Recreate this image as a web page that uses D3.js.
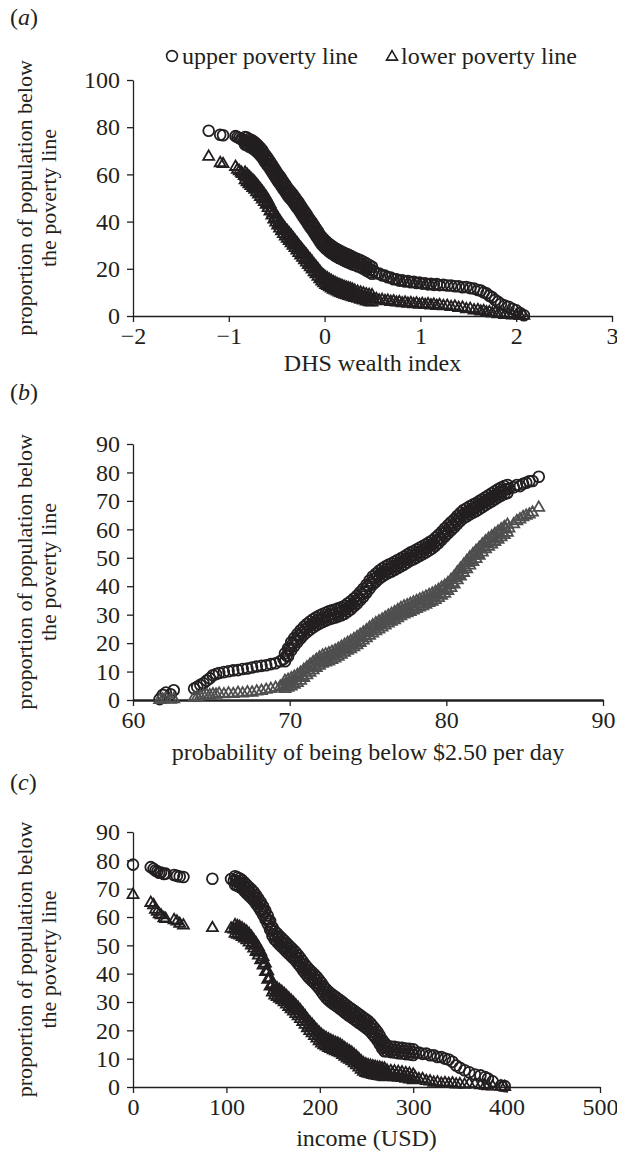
<!DOCTYPE html>
<html>
<head>
<meta charset="utf-8">
<script src="https://cdn.jsdelivr.net/npm/d3@7"></script>
<style>
  body { margin: 0; background: #fff; }
  text { font-family: "Liberation Serif", "Times New Roman", serif; fill: #231f20; }
</style>
</head>
<body>
<svg id="chart"></svg>
<script>
// ---- data ----
const legendLabels = ["upper poverty line", "lower poverty line"];
const yTitle = ["proportion of population below", "the poverty line"];

// (a) DHS wealth index
const aXTicks = [-2, -1, 0, 1, 2, 3];
const aYTicks = [0, 20, 40, 60, 80, 100];
const aX = [-1.21,-1.09,-1.06,-0.93,-0.91,-0.89,-0.87,-0.86,
  -0.84,-0.82,-0.80,-0.78,-0.76,-0.74,-0.72,-0.70,-0.68,-0.66,
  -0.64,-0.62,-0.60,-0.58,-0.56,-0.54,-0.52,-0.50,-0.48,-0.46,
  -0.44,-0.42,-0.40,-0.38,-0.36,-0.34,-0.32,-0.30,-0.28,-0.26,
  -0.24,-0.22,-0.20,-0.18,-0.16,-0.14,-0.12,-0.10,-0.08,-0.06,
  -0.04,-0.02,0.00,0.02,0.04,0.06,0.08,0.10,0.12,0.14,
  0.16,0.18,0.20,0.22,0.24,0.26,0.28,0.30,
  0.33,0.36,0.39,0.42,0.45,0.48,0.51,0.54,0.57,0.60,
  0.63,0.66,0.69,0.72,0.75,0.78,0.81,0.84,0.87,0.90,
  0.93,0.96,0.99,1.02,1.05,1.08,1.11,1.14,1.17,1.20,
  1.24,1.28,1.32,1.36,1.40,1.44,1.48,1.52,1.56,1.60,
  1.63,1.66,1.69,1.72,1.75,1.78,1.81,1.84,1.88,1.92,
  1.96,2.00,2.04,2.08];
const aUpper = [78.5,76.8,76.6,76.2,75.8,75.4,75.0,74.6,
  74.4,74.0,73.9,73.0,73.2,72.0,71.9,70.6,70.3,68.9,
  68.2,66.4,66.0,64.2,63.5,61.6,61.0,59.2,58.4,56.9,
  56.2,54.3,53.8,52.0,51.6,50.2,49.5,47.8,47.4,45.5,
  44.9,43.0,42.5,40.6,40.0,38.2,37.7,35.8,35.2,33.4,
  32.6,31.2,30.8,29.6,29.3,28.3,28.1,27.2,27.0,26.3,
  26.1,25.5,25.3,24.6,24.6,24.0,23.7,23.3,
  22.9,22.3,21.9,21.0,20.6,19.6,19.2,18.1,18.0,17.2,
  17.1,16.4,16.3,15.6,15.6,15.0,15.1,14.6,14.8,14.3,
  14.5,14.0,14.2,13.7,13.9,13.4,13.6,13.2,13.5,13.1,
  13.2,12.9,12.9,12.6,12.6,12.2,12.3,11.8,11.6,11.0,
  10.8,10.0,9.6,8.6,7.9,6.8,6.0,5.1,4.4,3.9,
  3.0,2.4,1.2,0.3];
const aLower = [67.5,64.8,64.4,63.2,62.0,61.4,60.7,60.2,
  59.3,58.9,57.6,57.3,56.0,55.8,54.4,53.8,52.3,51.9,
  50.1,49.7,47.8,46.9,44.8,43.5,41.4,40.9,39.0,38.3,
  36.7,36.0,34.6,34.1,32.7,32.2,30.6,30.2,28.6,28.0,
  26.5,26.0,24.6,23.9,22.5,22.0,20.5,19.9,18.6,18.0,
  16.4,16.0,14.9,14.7,13.9,13.7,12.9,12.6,12.1,11.9,
  11.3,11.2,10.6,10.6,10.1,10.1,9.6,9.5,
  8.9,8.7,8.1,8.0,7.4,7.5,7.0,7.2,6.6,6.8,
  6.3,6.5,6.0,6.2,5.7,5.9,5.4,5.7,5.2,5.5,
  5.0,5.3,4.8,5.1,4.7,5.0,4.5,4.8,4.3,4.6,
  4.2,4.3,3.8,4.0,3.4,3.5,2.9,3.0,2.4,2.5,
  1.9,2.1,1.5,1.6,1.1,1.3,0.8,1.0,0.5,0.6,
  0.2,0.3,0.0,0.1];
// regions packed inside the solid part of the bands (two readings per x)
const aXDense = [-0.83,-0.81,-0.79,-0.77,-0.75,-0.73,-0.71,-0.69,-0.67,-0.65,
  -0.63,-0.61,-0.59,-0.57,-0.55,-0.53,-0.51,-0.49,-0.47,-0.45,
  -0.43,-0.41,-0.39,-0.37,-0.35,-0.33,-0.31,-0.29,-0.27,-0.25,
  -0.23,-0.21,-0.19,-0.17,-0.15,-0.13,-0.11,-0.09,-0.07,-0.05,
  -0.03,-0.01,0.01,0.03,0.05,0.07,0.09,0.11,0.13,0.15,
  0.17,0.19,0.21,0.23,0.25,0.27,0.29,
  0.315,0.345,0.375,0.405,0.435,0.465,0.495];
const aUpperDense = [75.8,72.4,75.0,71.5,74.2,70.4,72.9,68.9,71.2,67.0,
  68.9,64.6,66.7,62.3,64.2,59.7,61.7,57.2,59.3,55.0,
  56.9,52.5,54.5,50.2,52.5,48.3,50.3,46.0,48.1,43.6,
  45.6,41.2,43.2,38.7,40.7,36.4,38.4,33.9,35.9,31.4,
  33.5,29.4,31.8,27.9,30.4,26.6,29.3,25.5,28.3,24.6,
  27.4,23.8,26.6,23.0,25.9,22.3,25.1,
  24.6,21.1,23.6,20.0,22.3,18.6,20.9];
const aUpperDense2 = [72.6,75.6,71.8,74.7,71.0,73.6,69.7,72.1,68.0,70.2,
  65.7,67.8,63.5,65.5,61.0,62.9,58.5,60.4,56.1,58.2,
  53.7,55.7,51.3,53.4,49.3,51.5,47.1,49.2,44.9,46.8,
  42.4,44.4,40.0,41.9,37.5,39.6,35.2,37.1,32.7,34.6,
  30.3,32.6,28.6,31.1,27.2,29.8,26.1,28.7,25.1,27.8,
  24.2,27.0,23.4,26.2,22.7,25.5,21.9,
  21.6,24.1,20.6,23.0,19.3,21.6,17.9];
const aLowerDense = [57.5,59.9,55.9,58.3,54.3,56.7,52.5,54.7,50.5,52.6,
  48.3,50.4,45.8,47.5,42.6,44.1,39.6,41.6,37.1,39.1,
  34.8,36.9,32.8,35.0,30.9,33.0,28.8,31.0,26.7,28.9,
  24.7,26.9,22.7,24.8,20.7,22.9,18.6,20.9,16.7,18.8,
  14.6,17.1,13.2,15.9,12.2,14.9,11.2,14.0,10.4,13.2,
  9.7,12.5,9.0,12.0,8.5,11.5,8.0,
  7.7,10.3,6.9,9.6,6.2,8.9,5.8];
const aLowerDense2 = [60.7,56.7,59.1,55.1,57.5,53.5,55.7,51.5,53.7,49.4,
  51.5,47.2,49.0,44.3,45.8,40.9,42.8,38.4,40.3,35.9,
  38.0,33.7,36.0,31.8,34.1,29.8,32.0,27.8,29.9,25.7,
  27.9,23.7,25.9,21.6,23.9,19.7,21.8,17.7,19.9,15.6,
  17.8,13.9,16.4,12.7,15.4,11.7,14.4,10.8,13.6,10.0,
  12.9,9.3,12.2,8.8,11.7,8.3,11.2,
  10.7,7.3,9.9,6.6,9.2,5.9,8.8];

// (b) probability of being below $2.50 per day
const bXTicks = [60, 70, 80, 90];
const bYTicks = [0, 10, 20, 30, 40, 50, 60, 70, 80, 90];
const bX = [61.7,61.9,62.1,62.4,62.6,
  63.9,64.1,64.3,64.5,64.7,64.9,65.1,65.3,65.5,65.8,66.1,66.4,66.7,67.0,67.3,67.6,67.9,68.2,68.5,68.8,69.1,69.4,
  69.6,69.8,
  70.0,70.2,70.4,70.6,70.8,71.0,71.2,71.4,71.6,71.8,
  72.0,72.2,72.4,72.6,72.8,73.0,73.2,73.4,73.6,73.8,
  74.0,74.2,74.4,74.6,74.8,75.0,75.2,75.4,75.6,75.8,
  76.0,76.2,76.4,76.6,76.8,77.0,77.2,77.4,77.6,77.8,
  78.0,78.2,78.4,78.6,78.8,79.0,79.2,79.4,79.6,79.8,
  80.0,80.2,80.4,80.6,80.8,81.0,81.2,81.4,81.6,81.8,
  82.0,82.2,82.4,82.6,82.8,83.0,83.2,83.4,83.6,83.8,
  84.0,
  84.3,84.5,84.7,84.9,85.1,85.3,85.5,85.9];
const bUpper = [0.3,1.8,2.6,2.0,3.4,
  4.0,4.6,5.3,5.9,6.8,7.6,8.7,9.1,9.5,9.8,10.1,10.4,10.5,10.9,11.1,11.4,11.8,12.0,12.2,12.6,12.9,13.6,
  14.4,15.6,
  18.0,19.8,21.0,22.6,23.6,24.9,25.7,26.7,27.2,28.2,
  28.4,29.2,29.4,30.1,30.1,30.7,30.8,31.5,31.9,33.0,
  33.6,34.9,35.7,37.2,38.1,40.0,41.2,42.7,43.3,44.6,
  45.0,45.9,46.2,47.0,47.3,48.2,48.5,49.5,49.9,50.8,
  51.0,51.9,52.2,53.1,53.5,54.4,54.9,56.2,56.9,58.5,
  59.3,60.7,61.4,62.8,63.7,65.0,65.7,66.3,67.0,67.5,
  68.1,68.9,69.5,70.3,70.8,71.7,72.2,73.1,73.4,74.1,
  74.3,
  74.8,75.6,75.2,76.0,76.4,76.9,77.0,78.5];
const bLower = [0.0,0.2,0.5,0.1,0.3,
  0.8,1.1,1.3,1.6,1.8,1.7,2.0,1.9,2.2,2.0,2.3,2.1,2.5,2.3,2.7,2.6,3.0,3.2,3.6,3.9,4.3,4.7,
  5.0,5.6,
  5.7,6.6,6.9,7.9,8.5,9.8,10.4,11.6,12.1,13.3,
  13.7,14.6,14.6,15.4,15.5,16.4,16.8,17.8,18.1,19.2,
  19.4,20.5,20.9,22.0,22.5,23.7,24.2,25.4,25.7,26.7,
  27.0,28.1,28.4,29.4,29.6,30.7,31.0,31.9,31.9,32.8,
  32.9,33.8,33.9,34.8,35.0,35.9,36.1,37.1,37.5,38.6,
  39.0,40.4,41.1,42.9,44.0,45.6,46.6,48.2,49.1,50.7,
  51.3,52.9,53.6,55.1,55.4,56.8,57.1,58.5,58.7,60.0,
  60.3,
  61.8,62.9,63.5,64.3,64.8,65.2,65.9,67.6];
const bXDense = [69.7,69.9,70.1,70.3,70.5,70.7,70.9,71.1,71.3,71.5,
  71.7,71.9,72.1,72.3,72.5,72.7,72.9,73.1,73.3,73.5,
  73.7,73.9,74.1,74.3,74.5,74.7,74.9,75.1,75.3,75.5,
  75.7,75.9,76.1,76.3,76.5,76.7,76.9,77.1,77.3,77.5,
  77.7,77.9,78.1,78.3,78.5,78.7,78.9,79.1,79.3,79.5,
  79.7,79.9,80.1,80.3,80.5,80.7,80.9,81.1,81.3,81.5,
  81.7,81.9,82.1,82.3,82.5,82.7,82.9,83.1,83.3,83.5,
  83.7,83.9];
const bUpperDense = [16.4,15.4,20.3,19.0,23.2,21.7,25.7,23.9,27.6,25.6,
  29.1,26.9,30.2,27.9,31.2,28.7,31.8,29.4,32.6,30.3,
  33.9,31.9,35.7,33.9,37.9,36.3,40.5,39.2,43.4,41.6,
  45.4,43.4,46.9,44.7,48.0,45.8,49.2,47.0,50.4,48.3,
  51.8,49.5,52.9,50.7,54.1,51.9,55.4,53.3,57.0,55.2,
  59.1,57.5,61.4,59.7,63.5,61.9,65.8,64.0,67.4,65.3,
  68.7,66.4,69.9,67.8,71.3,69.2,72.7,70.6,74.1,71.9,
  75.2,72.8];
const bUpperDense2 = [13.6,18.2,17.5,21.8,20.4,24.5,22.9,26.7,24.8,28.4,
  26.3,29.7,27.4,30.7,28.4,31.5,29.0,32.2,29.8,33.1,
  31.1,34.7,32.9,36.7,35.1,39.1,37.7,42.0,40.6,44.4,
  42.6,46.2,44.1,47.5,45.2,48.6,46.4,49.8,47.6,51.1,
  49.0,52.3,50.1,53.5,51.3,54.7,52.6,56.1,54.2,58.0,
  56.3,60.3,58.6,62.5,60.7,64.7,63.0,66.8,64.6,68.1,
  65.9,69.2,67.1,70.6,68.5,72.0,69.9,73.4,71.3,74.7,
  72.4,75.6];
const bLowerDense = [3.9,7.1,4.8,8.2,6.0,9.6,7.8,11.5,9.6,13.3,
  11.3,14.9,12.8,16.0,13.6,16.9,14.6,18.0,15.9,19.4,
  17.3,20.7,18.6,22.1,20.1,23.7,21.7,25.4,23.4,27.0,
  24.8,28.3,26.2,29.7,27.5,30.9,28.8,32.3,30.1,33.3,
  31.0,34.3,32.0,35.3,33.0,36.3,34.1,37.4,35.2,38.7,
  36.7,40.2,38.3,42.2,40.6,44.9,43.4,47.5,46.0,50.1,
  48.5,52.4,50.7,54.7,53.0,56.7,54.7,58.4,56.4,60.0,
  58.0,61.6];
const bLowerDense2 = [6.7,4.3,7.6,5.4,8.8,6.8,10.6,8.7,12.4,10.5,
  14.1,12.1,15.6,13.2,16.4,14.1,17.4,15.2,18.7,16.6,
  20.1,17.9,21.4,19.3,22.9,20.9,24.5,22.6,26.2,24.2,
  27.6,25.5,29.0,26.9,30.3,28.1,31.6,29.5,32.9,30.5,
  33.8,31.5,34.8,32.5,35.8,33.5,36.9,34.6,38.0,35.9,
  39.5,37.4,41.1,39.4,43.4,42.1,46.2,44.7,48.8,47.3,
  51.3,49.6,53.5,51.9,55.8,53.9,57.5,55.6,59.2,57.2,
  60.8,58.8];

// (c) income (USD)
const cXTicks = [0, 100, 200, 300, 400, 500];
const cYTicks = [0, 10, 20, 30, 40, 50, 60, 70, 80, 90];
const cX = [0,19,22,24,26,28,30,33,35,44,47,50,54,85,105,
  108,110.5,113,115.5,118,120.5,123,125.5,128,130.5,
  133,135.5,138,140.5,143,145.5,148,150.5,153,155.5,
  158,160.5,163,165.5,168,170.5,173,175.5,178,180.5,
  183,185.5,188,190.5,193,195.5,198,200.5,203,205.5,
  208,210.5,213,215.5,218,220.5,223,225.5,228,230.5,
  233,235.5,238,240.5,243,245.5,248,250.5,253,255.5,
  258,260.5,263,265.5,268,270.5,
  274,278,282,286,290,294,298,302,306,310,314,318,322,326,330,
  334,338,342,346,350,355,360,366,372,377,380,385,394,398];
const cUpper = [78.5,77.6,77.0,76.4,76.1,75.6,75.7,75.2,75.3,74.8,74.5,74.3,74.1,73.5,73.4,
  72.9,72.8,72.2,72.0,70.9,70.4,69.2,68.8,67.6,67.0,
  65.4,64.6,62.8,61.7,59.6,58.3,55.8,54.0,52.9,52.4,
  51.2,50.7,49.6,49.0,47.9,47.5,46.2,45.7,44.3,43.6,
  42.0,41.3,40.0,39.6,38.4,37.9,36.6,35.9,34.4,33.6,
  32.3,32.0,31.0,30.7,29.8,29.6,28.6,28.3,27.3,27.0,
  26.0,25.9,24.9,24.6,23.7,23.4,22.5,22.3,21.3,20.6,
  19.4,18.6,17.1,16.0,14.4,13.8,
  13.5,13.2,13.1,12.7,12.8,12.4,12.5,12.1,12.2,11.7,11.8,11.2,11.2,10.6,10.6,
  10.0,9.7,8.9,7.6,6.8,5.9,5.2,4.4,4.1,3.5,3.0,2.0,0.5,0.3];
const cLower = [67.8,65.0,64.2,62.6,61.9,61.0,60.6,59.6,59.3,58.9,58.4,57.6,57.0,56.1,55.9,
  55.6,55.6,55.0,55.0,54.0,53.8,52.8,52.2,50.7,50.0,
  48.4,47.4,45.2,43.5,40.6,38.2,35.7,34.1,33.5,33.0,
  32.3,31.8,30.9,30.3,29.3,28.7,27.6,27.0,25.9,25.0,
  23.9,23.0,21.6,21.0,19.9,19.0,18.1,17.2,16.6,16.0,
  15.5,15.1,14.7,14.3,13.9,13.6,13.1,12.5,11.9,11.3,
  10.8,10.3,9.5,8.8,7.9,7.2,6.6,6.3,6.0,5.9,
  5.6,5.6,5.2,5.3,4.9,5.0,
  4.6,4.7,4.3,4.4,3.9,3.9,3.4,3.4,2.8,2.8,2.1,2.0,1.5,1.6,1.2,
  1.4,1.1,1.3,0.9,1.0,0.8,1.1,0.9,0.6,0.5,0.3,0.2,0.1,0.0];
const cXDense = [109.25,111.75,114.25,116.75,119.25,121.75,124.25,126.75,129.25,131.75,
  134.25,136.75,139.25,141.75,144.25,146.75,149.25,151.75,154.25,156.75,
  159.25,161.75,164.25,166.75,169.25,171.75,174.25,176.75,179.25,181.75,
  184.25,186.75,189.25,191.75,194.25,196.75,199.25,201.75,204.25,206.75,
  209.25,211.75,214.25,216.75,219.25,221.75,224.25,226.75,229.25,231.75,
  234.25,236.75,239.25,241.75,244.25,246.75,249.25,251.75,254.25,256.75,
  259.25,261.75,264.25,266.75,269.25,
  272,276,280,284,288,292,296,300];
const cUpperDense = [74.4,71.0,73.6,70.0,72.2,68.3,70.5,66.7,68.8,64.7,
  66.5,62.2,63.8,59.2,60.5,55.6,56.4,52.0,54.2,50.3,
  52.5,48.7,50.8,47.0,49.2,45.4,47.5,43.5,45.5,41.3,
  43.2,39.2,41.3,37.5,39.7,35.8,37.8,33.7,35.5,31.5,
  33.7,30.0,32.4,28.8,31.2,27.6,30.0,26.3,28.7,25.0,
  27.5,23.9,26.3,22.7,25.1,21.5,23.9,20.3,22.5,18.5,
  20.5,16.4,18.1,13.7,15.6,
  14.6,12.3,14.2,11.9,13.8,11.6,13.5,11.3];
const cUpperDense2 = [71.4,74.0,70.6,73.0,69.2,71.3,67.5,69.7,65.8,67.7,
  63.5,65.2,60.8,62.2,57.5,58.6,53.4,55.0,51.2,53.3,
  49.5,51.7,47.8,50.0,46.2,48.4,44.5,46.5,42.5,44.3,
  40.2,42.2,38.3,40.5,36.7,38.8,34.8,36.7,32.5,34.5,
  30.7,33.0,29.4,31.8,28.2,30.6,27.0,29.3,25.7,28.0,
  24.5,26.9,23.3,25.7,22.1,24.5,20.9,23.3,19.5,21.5,
  17.5,19.4,15.1,16.7,12.6,
  12.6,14.3,12.2,13.9,11.8,13.6,11.5,13.3];
const cLowerDense = [54.1,56.8,53.5,56.0,52.4,54.8,51.0,53.0,48.9,50.7,
  46.4,47.8,42.9,43.6,37.9,38.5,33.4,35.3,31.8,34.2,
  30.6,32.9,29.1,31.3,27.5,29.7,25.8,28.0,24.0,26.0,
  22.0,23.8,19.8,22.0,18.0,20.1,16.2,18.4,14.8,17.3,
  13.8,16.4,13.0,15.6,12.3,14.9,11.3,13.7,10.1,12.6,
  9.1,11.4,7.7,9.9,6.1,8.4,5.0,7.7,4.5,7.3,
  4.1,6.9,3.8,6.6,3.5,
  3.8,5.6,3.5,5.3,3.2,4.9,2.7,4.4];
const cLowerDense2 = [57.1,53.8,56.5,53.0,55.4,51.8,54.0,50.0,51.9,47.7,
  49.4,44.8,45.9,40.6,40.9,35.5,36.4,32.3,34.8,31.2,
  33.6,29.9,32.1,28.3,30.5,26.7,28.8,25.0,27.0,23.0,
  25.0,20.8,22.8,19.0,21.0,17.1,19.2,15.4,17.8,14.3,
  16.8,13.4,16.0,12.6,15.3,11.9,14.3,10.7,13.1,9.6,
  12.1,8.4,10.7,6.9,9.1,5.4,8.0,4.7,7.5,4.3,
  7.1,3.9,6.8,3.6,6.5,
  5.8,3.6,5.5,3.3,5.2,2.9,4.7,2.4];

// ---- drawing ----
const W = 617, H = 1155;
const ink = "#231f20";
const fontSize = 24;
const svg = d3.select("#chart").attr("width", W).attr("height", H);
const triangle = d3.symbol().type(d3.symbolTriangle).size(52);
const fmtMinus = d => d < 0 ? "\u2212" + Math.abs(d) : String(d);

function drawPanel(p) {
  const x = d3.scaleLinear().domain(p.xDomain).range([p.left, p.right]);
  const y = d3.scaleLinear().domain(p.yDomain).range([p.bottom, p.top]);
  const g = svg.append("g");

  g.append("g")
    .attr("transform", `translate(${p.left},0)`)
    .call(d3.axisLeft(y).tickValues(p.yTicks).tickSize(6).tickSizeOuter(0).tickPadding(7));
  g.append("g")
    .attr("class", "xaxis")
    .attr("transform", `translate(0,${p.bottom})`)
    .call(d3.axisBottom(x).tickValues(p.xTicks).tickSize(6).tickSizeOuter(0).tickPadding(5).tickFormat(fmtMinus));

  g.selectAll(".domain, .tick line").attr("stroke", ink).attr("stroke-width", 1.3);
  g.select(".xaxis .domain").attr("stroke-width", p.xAxisWidth || 1.3);
  g.selectAll(".tick text").attr("font-size", fontSize).attr("font-family", "Liberation Serif").attr("fill", ink);

  // each series: main readings plus the two packed readings per x
  const xs = p.xs.concat(p.xsDense, p.xsDense);
  const up = p.upper.concat(p.upperDense, p.upperDense2);
  const lo = p.lower.concat(p.lowerDense, p.lowerDense2);
  const pts = xs.map((v, i) => ({ x: v, u: up[i], l: lo[i] }));

  g.append("g").selectAll("circle")
    .data(pts)
    .join("circle")
    .attr("cx", d => x(d.x))
    .attr("cy", d => y(d.u))
    .attr("r", 5.4)
    .attr("fill", "none")
    .attr("stroke", ink)
    .attr("stroke-width", 1.8);

  g.append("g").selectAll("path")
    .data(pts)
    .join("path")
    .attr("d", triangle)
    .attr("transform", d => `translate(${x(d.x)},${y(d.l)})`)
    .attr("fill", "none")
    .attr("stroke", p.triColor || ink)
    .attr("stroke-width", 1.8);

  // panel letter
  const lab = g.append("text").attr("x", 10).attr("y", p.labelY).attr("font-size", fontSize);
  lab.append("tspan").text("(");
  lab.append("tspan").attr("font-style", "italic").text(p.letter);
  lab.append("tspan").text(")");

  // axis titles
  g.append("text")
    .attr("x", (p.left + p.right) / 2)
    .attr("y", p.xTitleY)
    .attr("text-anchor", "middle")
    .attr("font-size", fontSize)
    .text(p.xTitle);

  const cy = (p.top + p.bottom) / 2;
  yTitle.forEach((t, i) => {
    g.append("text")
      .attr("transform", `translate(${32 + i * 24},${cy}) rotate(-90)`)
      .attr("text-anchor", "middle")
      .attr("font-size", 22)
      .text(t);
  });
}

drawPanel({
  letter: "a", labelY: 25,
  left: 133, right: 612, top: 80, bottom: 316,
  xDomain: [-2, 3], yDomain: [0, 100], xTicks: aXTicks, yTicks: aYTicks,
  xs: aX, upper: aUpper, lower: aLower,
  xsDense: aXDense, upperDense: aUpperDense, upperDense2: aUpperDense2,
  lowerDense: aLowerDense, lowerDense2: aLowerDense2,
  xTitle: "DHS wealth index", xTitleY: 371
});

drawPanel({
  letter: "b", labelY: 400,
  left: 133, right: 603, top: 444, bottom: 700,
  xDomain: [60, 90], yDomain: [0, 90], xTicks: bXTicks, yTicks: bYTicks,
  xs: bX, upper: bUpper, lower: bLower,
  xsDense: bXDense, upperDense: bUpperDense, upperDense2: bUpperDense2,
  lowerDense: bLowerDense, lowerDense2: bLowerDense2,
  xTitle: "probability of being below $2.50 per day", xTitleY: 760,
  triColor: "#4f4f4f", xAxisWidth: 2.6
});

drawPanel({
  letter: "c", labelY: 790,
  left: 133, right: 600, top: 832, bottom: 1087,
  xDomain: [0, 500], yDomain: [0, 90], xTicks: cXTicks, yTicks: cYTicks,
  xs: cX, upper: cUpper, lower: cLower,
  xsDense: cXDense, upperDense: cUpperDense, upperDense2: cUpperDense2,
  lowerDense: cLowerDense, lowerDense2: cLowerDense2,
  xTitle: "income (USD)", xTitleY: 1146
});

// legend
const legend = svg.append("g").attr("transform", "translate(0,56)");
legend.append("circle").attr("cx", 172).attr("cy", 0).attr("r", 5.4)
  .attr("fill", "none").attr("stroke", ink).attr("stroke-width", 1.6);
legend.append("text").attr("x", 182).attr("y", 8).attr("font-size", fontSize).text(legendLabels[0]);
legend.append("path").attr("d", triangle).attr("transform", "translate(392,1)")
  .attr("fill", "none").attr("stroke", ink).attr("stroke-width", 1.6);
legend.append("text").attr("x", 401).attr("y", 8).attr("font-size", fontSize).text(legendLabels[1]);
</script>
</body>
</html>
